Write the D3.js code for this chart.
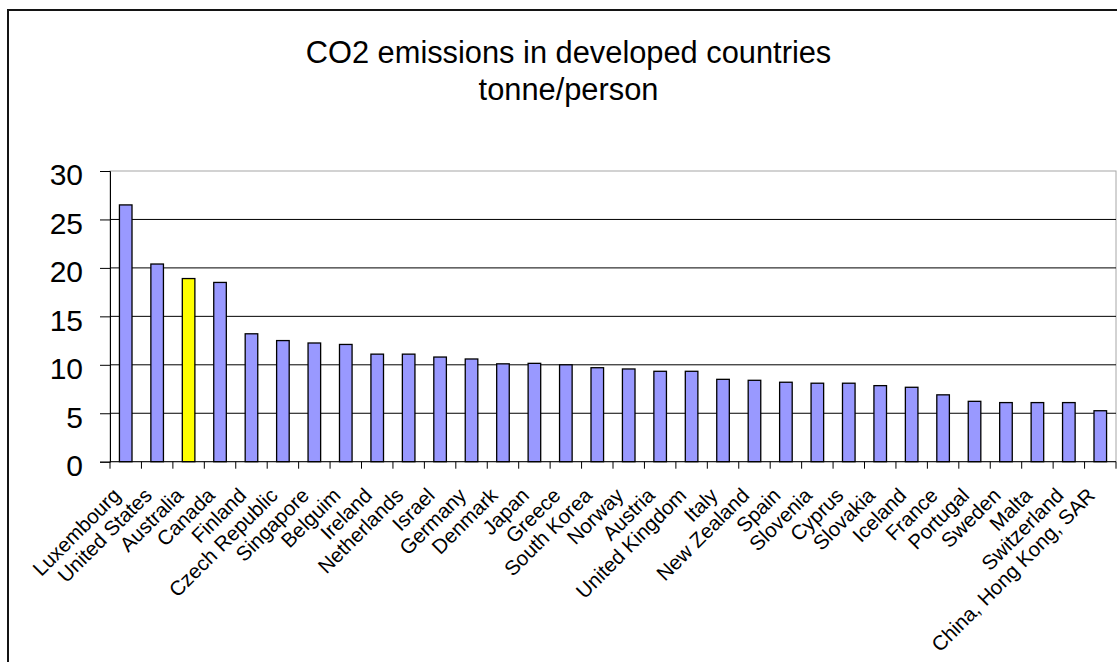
<!DOCTYPE html>
<html>
<head>
<meta charset="utf-8">
<script src="https://cdn.jsdelivr.net/npm/d3@7"></script>
<style>
  html, body { margin: 0; padding: 0; background: #fff; }
  svg { display: block; }
  text { font-family: "Liberation Sans", Arial, sans-serif; fill: #000; }
</style>
</head>
<body>
<svg id="chart" width="1117" height="662"></svg>
<script>
// CO2 emissions per person, tonnes
const countries = [
  "Luxembourg", "United States", "Australia", "Canada", "Finland",
  "Czech Republic", "Singapore", "Belguim", "Ireland", "Netherlands",
  "Israel", "Germany", "Denmark", "Japan", "Greece", "South Korea",
  "Norway", "Austria", "United Kingdom", "Italy", "New Zealand", "Spain",
  "Slovenia", "Cyprus", "Slovakia", "Iceland", "France", "Portugal",
  "Sweden", "Malta", "Switzerland", "China, Hong Kong, SAR"
];
const emissions = [
  26.5, 20.4, 18.9, 18.5, 13.2,
  12.5, 12.25, 12.1, 11.1, 11.1,
  10.8, 10.6, 10.1, 10.15, 10.0, 9.7,
  9.57, 9.33, 9.33, 8.5, 8.4, 8.2,
  8.1, 8.1, 7.85, 7.68, 6.9, 6.23,
  6.1, 6.1, 6.1, 5.26
];
const highlighted = ["Australia"];
const yTicks = [0, 5, 10, 15, 20, 25, 30];
const titleLines = ["CO2 emissions in developed countries", "tonne/person"];

const svg = d3.select("#chart");
const plot = { left: 110, right: 1116, top: 171, bottom: 461.7 };

// outer chart frame
svg.append("rect")
  .attr("x", 8).attr("y", 10)
  .attr("width", 1140).attr("height", 700)
  .attr("fill", "#fff").attr("stroke", "#141414").attr("stroke-width", 2);

// title
svg.append("g").selectAll("text")
  .data(titleLines)
  .join("text")
  .attr("x", 568.5)
  .attr("y", (d, i) => 62.5 + i * 37)
  .attr("text-anchor", "middle")
  .attr("font-size", 30.8)
  .text(d => d);

const x = d3.scaleBand()
  .domain(countries)
  .range([plot.left, plot.right])
  .paddingInner(0.6)
  .paddingOuter(0.3);

const xCat = d3.scaleBand()
  .domain(countries)
  .range([plot.left, plot.right])
  .padding(0);

const y = d3.scaleLinear()
  .domain([0, 30])
  .range([plot.bottom, plot.top]);

// plot area border
svg.append("rect")
  .attr("x", plot.left).attr("y", plot.top)
  .attr("width", plot.right - plot.left)
  .attr("height", plot.bottom - plot.top)
  .attr("fill", "none").attr("stroke", "#a6a6a6").attr("stroke-width", 1);

// horizontal gridlines
svg.append("g").selectAll("line")
  .data(yTicks.filter(t => t > 0 && t < 30))
  .join("line")
  .attr("x1", plot.left).attr("x2", plot.right)
  .attr("y1", d => y(d)).attr("y2", d => y(d))
  .attr("stroke", "#000").attr("stroke-width", 1);

// bars
const data = countries.map((c, i) => ({ country: c, value: emissions[i] }));
svg.append("g").selectAll("rect")
  .data(data)
  .join("rect")
  .attr("x", d => x(d.country))
  .attr("y", d => y(d.value))
  .attr("width", x.bandwidth())
  .attr("height", d => y(0) - y(d.value))
  .attr("fill", d => highlighted.includes(d.country) ? "#ffff00" : "#9999ff")
  .attr("stroke", "#000").attr("stroke-width", 1.3);

// y axis
const yAxis = svg.append("g")
  .attr("transform", `translate(${plot.left},0)`)
  .call(d3.axisLeft(y).tickValues(yTicks).tickSize(10).tickPadding(17));
yAxis.select(".domain").attr("stroke", "#000");
yAxis.selectAll(".tick line").attr("stroke", "#000");
yAxis.selectAll(".tick text")
  .attr("font-family", "Liberation Sans, Arial, sans-serif")
  .attr("font-size", 30)
  .attr("dy", "0.46em");

// x axis baseline and boundary ticks
svg.append("line")
  .attr("x1", plot.left).attr("x2", plot.right)
  .attr("y1", y(0)).attr("y2", y(0))
  .attr("stroke", "#000").attr("stroke-width", 1);
const bounds = countries.map(c => xCat(c)).concat([plot.right]);
svg.append("g").selectAll("line")
  .data(bounds)
  .join("line")
  .attr("x1", d => d).attr("x2", d => d)
  .attr("y1", y(0)).attr("y2", y(0) + 7)
  .attr("stroke", "#000").attr("stroke-width", 1);

// rotated category labels
svg.append("g").selectAll("text")
  .data(countries)
  .join("text")
  .attr("transform", d => `translate(${xCat(d) + xCat.bandwidth() / 2 - 4},${y(0) + 35}) rotate(-45)`)
  .attr("text-anchor", "end")
  .attr("font-size", 20.5)
  .text(d => d);
</script>
</body>
</html>
